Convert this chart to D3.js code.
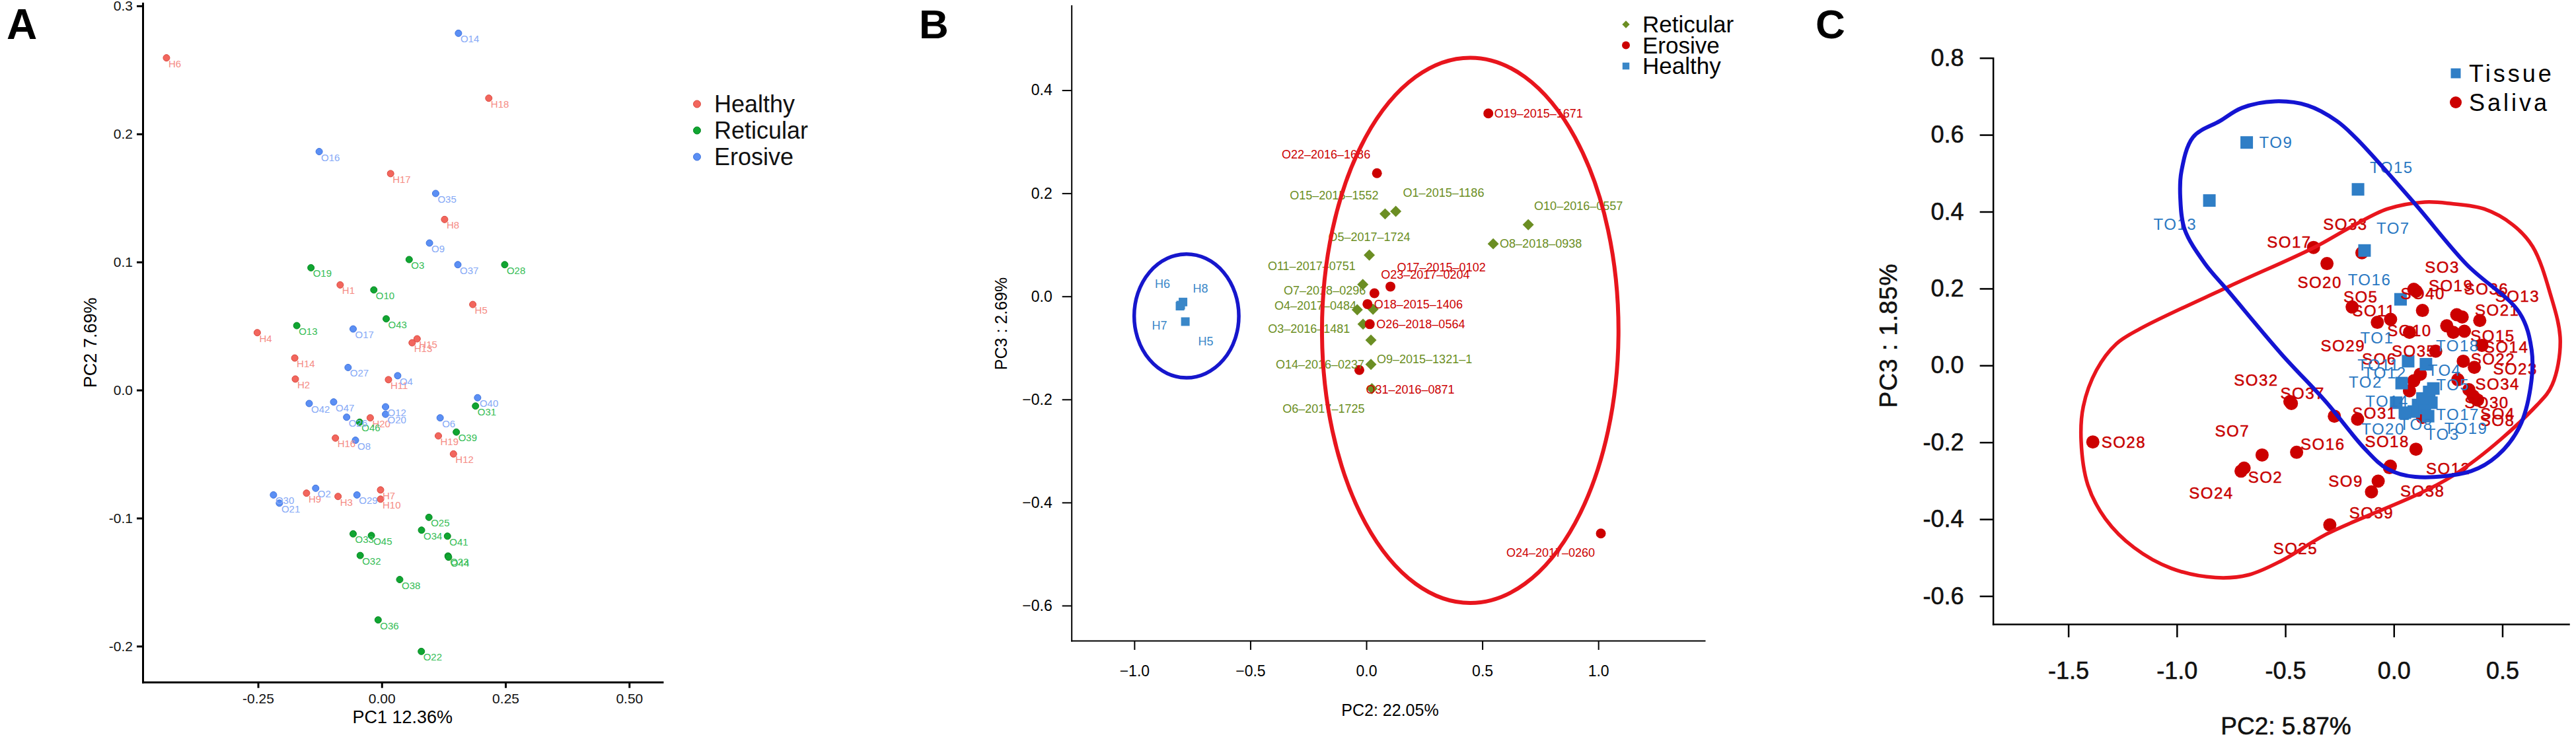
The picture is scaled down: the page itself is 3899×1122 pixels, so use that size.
<!DOCTYPE html>
<html><head><meta charset="utf-8"><title>PCA panels A-C</title>
<script src="https://cdn.jsdelivr.net/npm/d3@7/dist/d3.min.js"></script>
<style>
html,body{margin:0;padding:0;background:#fff;}
svg{display:block;}
</style></head>
<body>
<svg id="chart" width="3899" height="1122" xmlns="http://www.w3.org/2000/svg"></svg>
<script>
// ======================= DATA =======================
// ---- Panel A : PC1 vs PC2 ----
const aGroups = ["Healthy", "Reticular", "Erosive"];
const aHealthyNames = ["H1","H2","H3","H4","H5","H6","H7","H8","H9","H10","H11","H12","H13","H14","H15","H16","H17","H18","H19","H20"];
const aHealthyPC1 = [-0.084,-0.1746,-0.0883,-0.2515,0.184,-0.435,-0.0024,0.127,-0.152,-0.0024,0.0136,0.1449,0.0614,-0.1758,0.0715,-0.0936,0.0179,0.2163,0.1144,-0.0232];
const aHealthyPC2 = [0.0821,0.0086,-0.0831,0.0448,0.0668,0.2594,-0.078,0.1332,-0.0805,-0.0852,0.0081,-0.0499,0.0369,0.025,0.040,-0.0375,0.169,0.2279,-0.0358,-0.0217];
const aReticularNames = ["O3","O10","O13","O19","O22","O23","O25","O28","O31","O32","O33","O34","O36","O38","O39","O41","O43","O44","O45","O46"];
const aReticularPC1 = [0.0554,-0.016,-0.1717,-0.143,0.080,0.134,0.0953,0.2485,0.1895,-0.0435,-0.0578,0.0804,-0.0073,0.0363,0.1507,0.1328,0.009,0.135,-0.0209,-0.0447];
const aReticularPC2 = [0.1019,0.0782,0.0503,0.0955,-0.2041,-0.1296,-0.0994,0.0979,-0.0125,-0.1292,-0.1123,-0.1094,-0.1795,-0.148,-0.0328,-0.1141,0.0556,-0.1305,-0.1136,-0.0251];
const aErosiveNames = ["O2","O4","O6","O8","O9","O12","O14","O16","O17","O20","O21","O26","O27","O29","O30","O35","O37","O40","O42","O47"];
const aErosivePC1 = [-0.1335,0.0322,0.118,-0.0531,0.0965,0.0077,0.155,-0.1264,-0.0578,0.0077,-0.2068,-0.0709,-0.068,-0.0501,-0.2188,0.109,0.1538,0.1937,-0.1466,-0.0972];
const aErosivePC2 = [-0.0767,0.0112,-0.0217,-0.0392,0.1148,-0.0131,0.2786,0.1862,0.0477,-0.0189,-0.0883,-0.0212,0.0176,-0.0819,-0.0819,0.1535,0.0979,-0.006,-0.0105,-0.0093];
const aXTicks = [-0.25, 0, 0.25, 0.5];
const aYTicks = [-0.2, -0.1, 0, 0.1, 0.2, 0.3];

// ---- Panel B : PC2 vs PC3 ----
const bGroups = ["Reticular", "Erosive", "Healthy"];
const bReticularIds = ["O15–2015–1552","O1–2015–1186","O5–2017–1724","O11–2017–0751","O7–2018–0296","O3–2016–1481","O4–2017–0484","O9–2015–1321–1","O14–2016–0237","O6–2017–1725","O10–2016–0557","O8–2018–0938"];
const bReticularPC2 = [0.081,0.127,0.013,-0.015,0.029,-0.039,-0.014,0.020,0.020,0.024,0.698,0.547];
const bReticularPC3 = [0.160,0.165,0.080,0.023,-0.025,-0.026,-0.054,-0.085,-0.132,-0.179,0.139,0.102];
const bErosiveIds = ["O22–2016–1686","O17–2015–0102","O23–2017–0204","O18–2015–1406","O26–2018–0564","O31–2016–0871","O19–2015–1671","O24–2017–0260"];
const bErosivePC2 = [0.046,0.104,0.035,0.005,0.015,-0.030,0.526,1.011];
const bErosivePC3 = [0.239,0.019,0.006,-0.015,-0.054,-0.143,0.355,-0.460];
const bHealthyIds = ["H6","H8","H7","H5"];
const bHealthyPC2 = [-0.790,-0.803,-0.780,-0.800];
const bHealthyPC3 = [-0.011,-0.019,-0.049,-0.017];
const bEllipseGroups = ["Healthy","Erosive"];
const bEllipseCenterPC2 = [-0.775, 0.448];
const bEllipseCenterPC3 = [-0.038, -0.066];
const bEllipseRadiusPC2 = [0.2255, 0.639];
const bEllipseRadiusPC3 = [0.120, 0.529];
const bXTicks = [-1.0, -0.5, 0, 0.5, 1.0];
const bYTicks = [-0.6, -0.4, -0.2, 0, 0.2, 0.4];

// ---- Panel C : PC2 vs PC3 (tissue / saliva) ----
const cGroups = ["Tissue", "Saliva"];
const cTissueNames = ["TO9","TO13","TO15","TO7","TO16","TO1","TO18","TO12","TO2","TO4","TO5","TO14","TO17","TO8","TO20","TO19","TO3","TO11"];
const cTissuePC2 = [-0.678,-0.850,-0.165,-0.135,0.031,0.066,0.148,0.011,0.092,0.182,0.163,0.112,0.173,0.143,0.051,0.132,0.158,0.036];
const cTissuePC3 = [0.580,0.429,0.458,0.299,0.172,0.011,0.003,-0.097,-0.120,-0.060,-0.069,-0.103,-0.097,-0.111,-0.123,-0.086,-0.132,-0.046];
const cSalivaNames = ["SO28","SO7","SO2","SO24","SO16","SO32","SO37","SO17","SO20","SO33","SO25","SO9","SO39","SO18","SO38","SO12","SO31","SO26","SO5","SO29","SO11","SO40","SO3","SO19","SO36","SO13","SO21","SO10","SO1","SO27","SO15","SO14","SO35","SO22","SO23","SO6","SO41","SO42","SO34","SO30","SO4","SO8","SO43"];
const cSalivaPC2 = [-1.387,-0.607,-0.690,-0.704,-0.448,-0.479,-0.472,-0.370,-0.308,-0.147,-0.295,-0.072,-0.103,0.102,-0.020,-0.016,-0.274,-0.167,-0.192,-0.076,-0.015,0.103,0.092,0.132,0.290,0.396,0.315,0.072,0.244,0.274,0.325,0.406,0.193,0.320,0.371,0.122,0.092,0.072,0.295,0.346,0.366,0.386,0.132];
const cSalivaPC3 = [-0.199,-0.233,-0.267,-0.275,-0.226,-0.094,-0.099,0.307,0.265,0.293,-0.415,-0.301,-0.329,-0.218,-0.266,-0.262,-0.132,-0.140,0.152,0.112,0.120,0.193,0.198,0.143,0.132,0.117,0.126,0.086,0.103,0.086,0.089,0.052,0.037,0.011,-0.005,-0.023,-0.040,-0.066,-0.037,-0.063,-0.080,-0.090,-0.135];
const cTissueHullPC2 = [-0.548,-0.396,-0.263,-0.172,0.092,0.335,0.579,0.635,0.630,0.579,0.477,0.356,0.099,-0.030,-0.132,-0.314,-0.517,-0.761,-0.872,-0.964,-0.984,-0.979,-0.925,-0.801,-0.700];
const cTissueHullPC3 = [0.687,0.676,0.636,0.590,0.424,0.263,0.137,0.040,-0.057,-0.160,-0.235,-0.275,-0.290,-0.269,-0.218,-0.094,0.029,0.192,0.266,0.354,0.436,0.504,0.594,0.636,0.670];
const cSalivaHullPC2 = [-0.370,-0.192,-0.030,0.143,0.264,0.417,0.548,0.640,0.720,0.767,0.730,0.660,0.275,-0.314,-0.517,-0.670,-0.822,-1.025,-1.197,-1.329,-1.410,-1.441,-1.431,-1.370,-1.279,-1.167,-0.761];
const cSalivaHullPC3 = [0.306,0.362,0.407,0.425,0.421,0.407,0.366,0.309,0.188,0.065,-0.050,-0.103,-0.286,-0.440,-0.508,-0.545,-0.552,-0.528,-0.474,-0.399,-0.311,-0.196,-0.107,-0.012,0.056,0.096,0.205];
const cXTicks = [-1.5, -1.0, -0.5, 0, 0.5];
const cYTicks = [-0.6, -0.4, -0.2, 0, 0.2, 0.4, 0.6, 0.8];

// ======================= LAYOUT / STYLE =======================
const FONT = '"Liberation Sans", Arial, Helvetica, sans-serif';
const svg = d3.select("#chart");
svg.append("rect").attr("width", 3899).attr("height", 1122).attr("fill", "#fff");

// label placement: [dx, dy, anchor] in pixels relative to the mark
const bLabelPlace = {
  "O15–2015–1552":[-10,-28,"end"], "O1–2015–1186":[11,-28,"start"], "O5–2017–1724":[0,-28,"middle"],
  "O11–2017–0751":[-11,-28,"end"], "O7–2018–0296":[-11,-29,"end"], "O3–2016–1481":[-11,29,"end"],
  "O4–2017–0484":[-10,-28,"end"], "O9–2015–1321–1":[9,29,"start"], "O14–2016–0237":[-10,0,"end"],
  "O6–2017–1725":[-11,30,"end"], "O10–2016–0557":[9,-29,"start"], "O8–2018–0938":[10,0,"start"],
  "O22–2016–1686":[-10,-29,"end"], "O17–2015–0102":[10,-29,"start"], "O23–2017–0204":[10,-28,"start"],
  "O18–2015–1406":[10,0,"start"], "O26–2018–0564":[10,0,"start"], "O31–2016–0871":[10,29,"start"],
  "O19–2015–1671":[9,0,"start"], "O24–2017–0260":[-9,29,"end"],
  "H6":[-31,-28,"middle"], "H8":[31,-27,"middle"], "H7":[-39,6,"middle"], "H5":[38,55,"middle"]
};
const cLabelPlace = {
  TO9:[19,0,"start"], TO13:[-19,36,"end"], TO15:[18,-33,"start"], TO7:[18,-34,"start"],
  TO16:[-47,-30,"middle"], TO1:[-47,-35,"middle"], TO18:[48,-28,"middle"], TO12:[-17,-45,"middle"],
  TO2:[-73,-45,"middle"], TO4:[17,-28,"middle"], TO5:[36,-11,"middle"], TO14:[-47,-6,"middle"],
  TO17:[40,18,"middle"], TO8:[-13,25,"middle"], TO20:[-33,25,"middle"], TO19:[66,45,"middle"],
  TO3:[22,27,"middle"], TO11:[-35,-27,"middle"],
  SO28:[13,0,"start"], SO7:[-45,-36,"middle"], SO2:[6,14,"start"], SO24:[-45,33,"middle"],
  SO16:[6,-12,"start"], SO32:[-51,-32,"middle"], SO37:[17,-15,"middle"], SO17:[-3,-8,"end"],
  SO20:[-11,29,"middle"], SO33:[-25,-43,"middle"], SO25:[-52,36,"middle"], SO9:[-49,0,"middle"],
  SO39:[0,32,"middle"], SO18:[-10,-12,"end"], SO38:[50,35,"middle"], SO12:[54,4,"start"],
  SO31:[27,-5,"start"], SO5:[13,-15,"middle"], SO29:[-52,35,"middle"], SO11:[-25,-13,"middle"],
  SO40:[10,4,"middle"], SO3:[43,-33,"middle"], SO19:[43,-37,"middle"], SO36:[45,-39,"middle"],
  SO13:[57,-37,"middle"], SO21:[53,-10,"middle"], SO10:[0,-3,"middle"], SO15:[43,7,"middle"],
  SO14:[37,3,"middle"], SO35:[-33,0,"middle"], SO22:[45,-3,"middle"], SO23:[62,2,"middle"],
  SO6:[-62,-23,"middle"], SO34:[60,7,"middle"], SO30:[27,20,"middle"], SO4:[37,27,"middle"],
  SO8:[30,31,"middle"]
};

function styleAxis(g, sw, fs, col, heavy) {
  g.attr("font-family", null).attr("font-size", null);
  g.select(".domain").attr("stroke", "#000").attr("stroke-width", sw).attr("stroke-linecap", "square");
  g.selectAll(".tick line").attr("stroke", "#000").attr("stroke-width", sw);
  const t = g.selectAll(".tick text").attr("fill", col || "#000").style("font-family", FONT).style("font-size", fs + "px");
  if (heavy) t.attr("stroke", col || "#000").attr("stroke-width", heavy);
}
function addText(g, x, y, txt, opt) {
  const t = g.append("text").attr("x", x).attr("y", y).text(txt)
    .style("font-family", FONT).style("font-size", (opt.size || 20) + "px")
    .attr("fill", opt.fill || "#000").attr("text-anchor", opt.anchor || "start");
  if (opt.weight) t.style("font-weight", opt.weight);
  if (opt.dy) t.attr("dy", opt.dy);
  if (opt.rotate) t.attr("transform", `rotate(${opt.rotate},${x},${y})`);
  if (opt.ls) t.style("letter-spacing", opt.ls + "px");
  if (opt.heavy) t.attr("stroke", opt.fill || "#000").attr("stroke-width", opt.heavy);
  return t;
}
const minusFmt = f => d => d3.format(f)(d);
const hyphenFmt = f => d => d3.format(f)(d).replace("\u2212", "-");

// ======================= PANEL A =======================
(function () {
  const g = svg.append("g");
  const x = d3.scaleLinear().domain([-0.483, 0.567]).range([216, 1002.5]);
  const y = d3.scaleLinear().domain([-0.228, 0.302]).range([1032.7, 5]);
  g.append("g").attr("transform", `translate(0,${y.range()[0]})`)
    .call(d3.axisBottom(x).tickValues(aXTicks).tickFormat(hyphenFmt(".2f")).tickSize(9).tickPadding(8).tickSizeOuter(0))
    .call(a => styleAxis(a, 3, 21, "#111"));
  g.append("g").attr("transform", `translate(${x.range()[0]},0)`)
    .call(d3.axisLeft(y).tickValues(aYTicks).tickFormat(hyphenFmt(".1f")).tickSize(9).tickPadding(6).tickSizeOuter(0))
    .call(a => styleAxis(a, 3, 21, "#111"));
  addText(g, (x.range()[0] + x.range()[1]) / 2, 1095, "PC1 12.36%", {size: 27, anchor: "middle"});
  addText(g, 146, (y.range()[0] + y.range()[1]) / 2, "PC2 7.69%", {size: 27, anchor: "middle", rotate: -90});
  addText(g, 10, 59, "A", {size: 64, weight: "bold"});

  const colors = {
    Healthy:   {fill: "#F2665D", stroke: "#DC4A40", text: "#F58B84"},
    Reticular: {fill: "#10A531", stroke: "#078A24", text: "#35BD55"},
    Erosive:   {fill: "#5B8FF4", stroke: "#3E73DE", text: "#86A9F6"}
  };
  const series = [
    {group: "Healthy", names: aHealthyNames, pc1: aHealthyPC1, pc2: aHealthyPC2},
    {group: "Reticular", names: aReticularNames, pc1: aReticularPC1, pc2: aReticularPC2},
    {group: "Erosive", names: aErosiveNames, pc1: aErosivePC1, pc2: aErosivePC2}
  ];
  const pts = series.flatMap(s => s.names.map((n, i) => ({n, g: s.group, x: s.pc1[i], y: s.pc2[i]})));
  g.append("g").selectAll("circle").data(pts).join("circle")
    .attr("cx", d => x(d.x)).attr("cy", d => y(d.y)).attr("r", 5)
    .attr("fill", d => colors[d.g].fill).attr("stroke", d => colors[d.g].stroke).attr("stroke-width", 1);
  g.append("g").selectAll("text").data(pts).join("text")
    .attr("x", d => x(d.x) + 3).attr("y", d => y(d.y) + 14).text(d => d.n)
    .style("font-family", FONT).style("font-size", "15px").attr("fill", d => colors[d.g].text);

  // legend
  const lg = g.append("g").attr("transform", "translate(1055,157.5)");
  aGroups.forEach((grp, i) => {
    lg.append("circle").attr("cx", 0).attr("cy", i * 40).attr("r", 5.5)
      .attr("fill", colors[grp].fill).attr("stroke", colors[grp].stroke);
    addText(lg, 26, i * 40, grp, {size: 36, dy: "0.35em", fill: "#111"});
  });
})();

// ======================= PANEL B =======================
(function () {
  const g = svg.append("g");
  const x = d3.scaleLinear().domain([-1.271, 1.458]).range([1621.7, 2580]);
  const y = d3.scaleLinear().domain([-0.668, 0.564]).range([970, 8.6]);
  g.append("g").attr("transform", `translate(0,${y.range()[0]})`)
    .call(d3.axisBottom(x).tickValues(bXTicks).tickFormat(minusFmt(".1f")).tickSize(14).tickPadding(24).tickSizeOuter(0))
    .call(a => styleAxis(a, 2, 23));
  g.append("g").attr("transform", `translate(${x.range()[0]},0)`)
    .call(d3.axisLeft(y).tickValues(bYTicks).tickFormat(minusFmt(".1f")).tickSize(14).tickPadding(15).tickSizeOuter(0))
    .call(a => styleAxis(a, 2, 23));
  addText(g, 2104, 1084, "PC2: 22.05%", {size: 25, anchor: "middle"});
  addText(g, 1524, 490, "PC3 :  2.69%", {size: 25, anchor: "middle", rotate: -90});
  addText(g, 1391, 58, "B", {size: 62, weight: "bold"});

  const col = {Reticular: "#6B8E23", Erosive: "#CC0000", Healthy: "#3A87C8"};
  const diamond = d3.symbol().type(d3.symbolSquare).size(144)();
  const square = d3.symbol().type(d3.symbolSquare).size(169)();

  const ret = bReticularIds.map((n, i) => ({n, g: "Reticular", x: bReticularPC2[i], y: bReticularPC3[i]}));
  const ero = bErosiveIds.map((n, i) => ({n, g: "Erosive", x: bErosivePC2[i], y: bErosivePC3[i]}));
  const hea = bHealthyIds.map((n, i) => ({n, g: "Healthy", x: bHealthyPC2[i], y: bHealthyPC3[i]}));

  g.append("g").selectAll("path").data(ret).join("path").attr("d", diamond)
    .attr("transform", d => `translate(${x(d.x)},${y(d.y)}) rotate(45)`).attr("fill", col.Reticular);
  g.append("g").selectAll("circle").data(ero).join("circle")
    .attr("cx", d => x(d.x)).attr("cy", d => y(d.y)).attr("r", 7.5).attr("fill", col.Erosive);
  g.append("g").selectAll("path").data(hea).join("path").attr("d", square)
    .attr("transform", d => `translate(${x(d.x)},${y(d.y)})`).attr("fill", col.Healthy);

  const all = ret.concat(ero, hea);
  g.append("g").selectAll("text").data(all).join("text")
    .attr("x", d => x(d.x) + bLabelPlace[d.n][0]).attr("y", d => y(d.y) + bLabelPlace[d.n][1])
    .attr("dy", "0.35em").attr("text-anchor", d => bLabelPlace[d.n][2])
    .text(d => d.n).style("font-family", FONT).style("font-size", "18px").attr("fill", d => col[d.g]);

  // ellipses (drawn on top)
  const ellCol = {Healthy: "#1616CC", Erosive: "#E8151D"};
  bEllipseGroups.forEach((grp, i) => {
    const cx = x(bEllipseCenterPC2[i]), cy = y(bEllipseCenterPC3[i]);
    g.append("ellipse").attr("cx", cx).attr("cy", cy)
      .attr("rx", x(bEllipseCenterPC2[i] + bEllipseRadiusPC2[i]) - cx)
      .attr("ry", y(bEllipseCenterPC3[i] - bEllipseRadiusPC3[i]) - cy)
      .attr("fill", "none").attr("stroke", ellCol[grp]).attr("stroke-width", grp === "Healthy" ? 5.5 : 6);
  });

  // legend
  const lg = g.append("g").attr("transform", "translate(2461,37)");
  bGroups.forEach((grp, i) => {
    const yy = i * 31.5;
    if (grp === "Reticular") lg.append("path").attr("d", d3.symbol().type(d3.symbolSquare).size(64)())
      .attr("transform", `translate(0,${yy}) rotate(45)`).attr("fill", col.Reticular);
    else if (grp === "Erosive") lg.append("circle").attr("cx", 0).attr("cy", yy).attr("r", 6).attr("fill", col.Erosive);
    else lg.append("path").attr("d", d3.symbol().type(d3.symbolSquare).size(110)())
      .attr("transform", `translate(0,${yy})`).attr("fill", col.Healthy);
    addText(lg, 25, yy, grp, {size: 35, dy: "0.35em", fill: "#000"});
  });
})();

// ======================= PANEL C =======================
(function () {
  const g = svg.append("g");
  const x = d3.scaleLinear().domain([-1.847, 0.806]).range([3016.6, 3888]);
  const y = d3.scaleLinear().domain([-0.673, 0.8]).range([945, 87.7]);
  g.append("g").attr("transform", `translate(0,${y.range()[0]})`)
    .call(d3.axisBottom(x).tickValues(cXTicks).tickFormat(hyphenFmt(".1f")).tickSize(20).tickPadding(37).tickSizeOuter(0))
    .call(a => styleAxis(a, 2.5, 36, "#111", 0.6));
  g.append("g").attr("transform", `translate(${x.range()[0]},0)`)
    .call(d3.axisLeft(y).tickValues(cYTicks).tickFormat(hyphenFmt(".1f")).tickSize(20).tickPadding(24).tickSizeOuter(0))
    .call(a => styleAxis(a, 2.5, 36, "#111", 0.6));
  addText(g, 3460, 1112, "PC2: 5.87%", {size: 37, anchor: "middle", fill: "#111", heavy: 0.6});
  addText(g, 2871, 508, "PC3 : 1.85%", {size: 37, anchor: "middle", rotate: -90, fill: "#111", ls: 1, heavy: 0.6});
  addText(g, 2748, 58, "C", {size: 62, weight: "bold"});

  const col = {Tissue: "#2F7EC6", Saliva: "#CC0000"};
  const txtCol = {Tissue: "#2A78C2", Saliva: "#C80000"};
  const sal = cSalivaNames.map((n, i) => ({n, g: "Saliva", x: cSalivaPC2[i], y: cSalivaPC3[i]}));
  const tis = cTissueNames.map((n, i) => ({n, g: "Tissue", x: cTissuePC2[i], y: cTissuePC3[i]}));

  g.append("g").selectAll("circle").data(sal).join("circle")
    .attr("cx", d => x(d.x)).attr("cy", d => y(d.y)).attr("r", 10).attr("fill", col.Saliva);
  const sq = d3.symbol().type(d3.symbolSquare).size(361)();
  g.append("g").selectAll("path").data(tis).join("path").attr("d", sq)
    .attr("transform", d => `translate(${x(d.x)},${y(d.y)})`).attr("fill", col.Tissue);

  const labelled = sal.concat(tis).filter(d => cLabelPlace[d.n]);
  g.append("g").selectAll("text").data(labelled).join("text")
    .attr("x", d => x(d.x) + cLabelPlace[d.n][0]).attr("y", d => y(d.y) + cLabelPlace[d.n][1])
    .attr("dy", "0.35em").attr("text-anchor", d => cLabelPlace[d.n][2])
    .text(d => d.n).style("font-family", FONT).style("font-size", "24px").style("letter-spacing", "1.5px")
    .attr("fill", d => txtCol[d.g]).attr("stroke", d => d.g === "Saliva" ? txtCol[d.g] : "none").attr("stroke-width", 0.5);

  // hulls (on top)
  const line = d3.line().x(d => x(d[0])).y(d => y(d[1])).curve(d3.curveCatmullRomClosed.alpha(0.5));
  g.append("path").attr("d", line(cSalivaHullPC2.map((v, i) => [v, cSalivaHullPC3[i]])))
    .attr("fill", "none").attr("stroke", "#E8151D").attr("stroke-width", 5.5);
  g.append("path").attr("d", line(cTissueHullPC2.map((v, i) => [v, cTissueHullPC3[i]])))
    .attr("fill", "none").attr("stroke", "#1414D2").attr("stroke-width", 6);

  // legend
  const lg = g.append("g").attr("transform", "translate(3717,111)");
  cGroups.forEach((grp, i) => {
    const yy = i * 44;
    if (grp === "Tissue") lg.append("path").attr("d", d3.symbol().type(d3.symbolSquare).size(225)())
      .attr("transform", `translate(0,${yy})`).attr("fill", col.Tissue);
    else lg.append("circle").attr("cx", 0).attr("cy", yy).attr("r", 9).attr("fill", col.Saliva);
    addText(lg, 20, yy, grp, {size: 36, dy: "0.35em", fill: "#000", ls: 4});
  });
})();
</script>
</body></html>
